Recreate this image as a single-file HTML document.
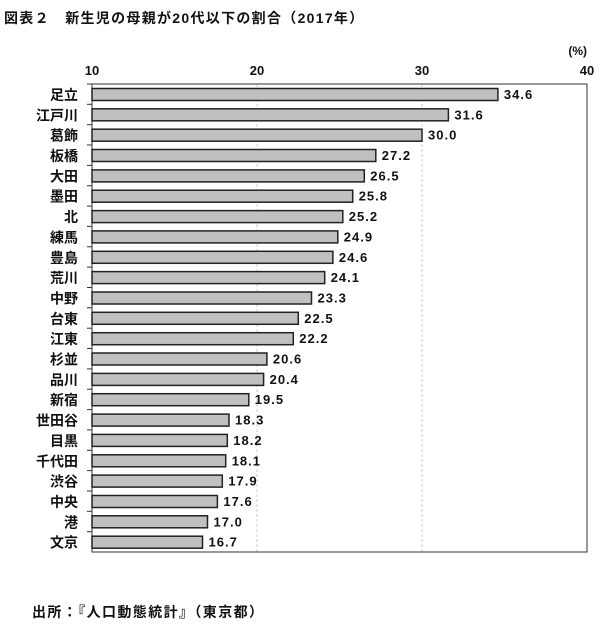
<!DOCTYPE html>
<html><head><meta charset="utf-8"><style>
body{margin:0;background:#fff;}
</style></head><body>
<svg width="600" height="637" xmlns="http://www.w3.org/2000/svg" font-family="'Liberation Sans','Noto Sans CJK JP',sans-serif">
<rect width="600" height="637" fill="#fff"/>
<text x="4" y="23" font-size="14" font-weight="bold" fill="#111" letter-spacing="1.3">図表２　新生児の母親が20代以下の割合（2017年）</text>
<text x="587" y="55" font-size="12" font-weight="bold" text-anchor="end" fill="#111">(%)</text>
<g font-size="13" font-weight="bold" fill="#111" text-anchor="middle">
<text x="92" y="75">10</text><text x="257" y="75">20</text><text x="422" y="75">30</text><text x="587" y="75">40</text>
</g>
<line x1="257" y1="84" x2="257" y2="552" stroke="#ccc" stroke-dasharray="3,2"/>
<line x1="422" y1="84" x2="422" y2="552" stroke="#ccc" stroke-dasharray="3,2"/>
<rect x="92" y="84" width="495" height="468" fill="none" stroke="#333" stroke-width="1"/>
<g id="bars"></g>
<text x="32" y="617" font-size="14" font-weight="bold" fill="#111" letter-spacing="1.4">出所：『人口動態統計』（東京都）</text>
</svg>
<script>
var d=[["足立",34.6],["江戸川",31.6],["葛飾",30.0],["板橋",27.2],["大田",26.5],["墨田",25.8],["北",25.2],["練馬",24.9],["豊島",24.6],["荒川",24.1],["中野",23.3],["台東",22.5],["江東",22.2],["杉並",20.6],["品川",20.4],["新宿",19.5],["世田谷",18.3],["目黒",18.2],["千代田",18.1],["渋谷",17.9],["中央",17.6],["港",17.0],["文京",16.7]];
var g=document.getElementById("bars"),s="";
var p=468/23;
for(var i=0;i<d.length;i++){var y=84+i*p;var w=(d[i][1]-10)*16.5;
s+='<rect x="92" y="'+(y+4.5).toFixed(1)+'" width="'+w.toFixed(1)+'" height="12" fill="#c0c0c0" stroke="#222" stroke-width="1.5"/>';
s+='<text x="'+(92+w+6).toFixed(1)+'" y="'+(y+15).toFixed(1)+'" font-size="13" font-weight="bold" fill="#111" letter-spacing="1">'+d[i][1].toFixed(1)+'</text>';
s+='<text x="78" y="'+(y+16).toFixed(1)+'" font-size="14" font-weight="bold" text-anchor="end" fill="#111">'+d[i][0]+'</text>';
s+='<line x1="87" y1="'+(y).toFixed(1)+'" x2="92" y2="'+(y).toFixed(1)+'" stroke="#333"/>';}
g.innerHTML=s;
</script>
</body></html>
